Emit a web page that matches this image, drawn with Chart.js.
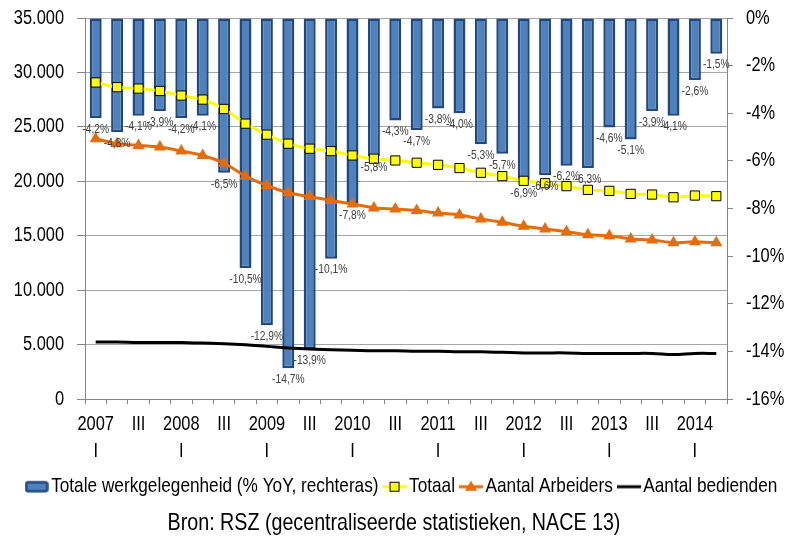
<!DOCTYPE html>
<html>
<head>
<meta charset="utf-8">
<script src="https://cdn.jsdelivr.net/npm/chart.js@4/dist/chart.umd.min.js"></script>
<style>
  html, body { margin: 0; padding: 0; background: #fff; }
  #wrap { width: 788px; height: 540px; }
</style>
</head>
<body>
<div id="wrap"><canvas id="c" width="788" height="540"></canvas></div>
<script>
// ---- data ----
const years = ["2007", "2008", "2009", "2010", "2011", "2012", "2013", "2014"];
const quarterNames = ["I", "II", "III", "IV"];
const categories = [];
for (let i = 0; i < 30; i++) {
  const y = years[Math.floor(i / 4)];
  const q = quarterNames[i % 4];
  categories.push(i % 4 === 0 ? [y, q] : q);
}
const yoyTotal = [-4.2, -4.8, -4.1, -3.9, -4.2, -4.1, -6.5, -10.5, -12.9, -14.7,
                  -13.9, -10.1, -7.8, -5.8, -4.3, -4.7, -3.8, -4.0, -5.3, -5.7,
                  -6.9, -6.6, -6.2, -6.3, -4.6, -5.1, -3.9, -4.1, -2.6, -1.5];
const totaal = [29080, 28650, 28520, 28300, 27880, 27510, 26650, 25300, 24290, 23460,
                23000, 22780, 22380, 22080, 21920, 21710, 21520, 21220, 20790, 20480,
                20050, 19830, 19560, 19220, 19130, 18850, 18790, 18540, 18700, 18640];
const arbeiders = [23920, 23460, 23300, 23150, 22780, 22380, 21670, 20480, 19620, 18950,
                   18600, 18240, 17930, 17560, 17470, 17320, 17100, 16920, 16550, 16240,
                   15870, 15630, 15380, 15100, 15010, 14710, 14620, 14370, 14460, 14370];
const bedienden = [5250, 5250, 5200, 5200, 5200, 5150, 5100, 5000, 4850, 4700,
                   4600, 4550, 4500, 4450, 4450, 4400, 4400, 4350, 4350, 4300,
                   4250, 4250, 4250, 4200, 4200, 4200, 4200, 4100, 4200, 4200];
const leftTicks = [0, 5000, 10000, 15000, 20000, 25000, 30000, 35000];
const rightTicks = [0, -2, -4, -6, -8, -10, -12, -14, -16];
const seriesNames = ["Totale werkgelegenheid (% YoY, rechteras)", "Totaal", "Aantal Arbeiders", "Aantal bedienden"];
const sourceText = "Bron: RSZ (gecentraliseerde statistieken, NACE 13)";

// ---- narrow text rendering (emulates a condensed face) ----
(function () {
  const K = 0.82;
  const proto = CanvasRenderingContext2D.prototype;
  const origFill = proto.fillText, origMeasure = proto.measureText;
  proto.measureText = function (t) {
    const m = origMeasure.call(this, t);
    return {
      width: m.width * K,
      actualBoundingBoxAscent: m.actualBoundingBoxAscent,
      actualBoundingBoxDescent: m.actualBoundingBoxDescent,
      actualBoundingBoxLeft: m.actualBoundingBoxLeft * K,
      actualBoundingBoxRight: m.actualBoundingBoxRight * K,
      fontBoundingBoxAscent: m.fontBoundingBoxAscent,
      fontBoundingBoxDescent: m.fontBoundingBoxDescent
    };
  };
  proto.fillText = function (t, x, y, mw) {
    this.save();
    this.translate(x, y);
    this.scale(K, 1);
    if (mw !== undefined) origFill.call(this, t, 0, 0, mw / K); else origFill.call(this, t, 0, 0);
    this.restore();
  };
})();

// ---- styles ----
const FONT = "'Liberation Sans', Arial, sans-serif";
const BAR_FILL = '#4F81BD';
const BAR_BORDER = '#22497F';
const YELLOW = '#FFFF00';
const ORANGE = '#E46C0A';

function fmtThousands(v) {
  return String(v).replace(/\B(?=(\d{3})+(?!\d))/g, '.');
}
function fmtPct(v) {
  return v.toFixed(1).replace('.', ',') + '%';
}

// legend icons
function makeIcon(kind) {
  const c = document.createElement('canvas');
  const w = 24, h = 14;
  c.width = w; c.height = h;
  const g = c.getContext('2d');
  if (kind === 'bar') {
    g.fillStyle = BAR_FILL;
    g.strokeStyle = BAR_BORDER;
    g.lineWidth = 2.5;
    g.beginPath();
    if (g.roundRect) g.roundRect(1.5, 2.5, w - 3, h - 5, 2); else g.rect(1.5, 2.5, w - 3, h - 5);
    g.fill(); g.stroke();
  } else {
    const col = kind === 'yellow' ? YELLOW : kind === 'orange' ? ORANGE : '#000';
    g.strokeStyle = col;
    g.lineWidth = 3;
    g.beginPath(); g.moveTo(0, h / 2); g.lineTo(w, h / 2); g.stroke();
    if (kind === 'yellow') {
      g.fillStyle = YELLOW; g.strokeStyle = '#000'; g.lineWidth = 1;
      g.fillRect(w / 2 - 5, h / 2 - 5, 10, 10);
      g.strokeRect(w / 2 - 5 + 0.5, h / 2 - 5 + 0.5, 9, 9);
    } else if (kind === 'orange') {
      g.fillStyle = ORANGE;
      g.beginPath(); g.moveTo(w / 2, h / 2 - 6); g.lineTo(w / 2 + 6, h / 2 + 4); g.lineTo(w / 2 - 6, h / 2 + 4); g.closePath(); g.fill();
    }
  }
  return c;
}
const icons = [makeIcon('bar'), makeIcon('yellow'), makeIcon('orange'), makeIcon('black')];

const barLabelPlugin = {
  id: 'barLabels',
  afterLayout(chart) {
    // legend in the reference sits slightly right of centre
    if (chart.legend) { chart.legend.left += 11; chart.legend.right += 11; }
  },
  afterDatasetsDraw(chart) {
    const meta = chart.getDatasetMeta(3);
    const ctx = chart.ctx;
    ctx.save();
    ctx.font = '12.5px ' + FONT;
    ctx.fillStyle = '#404040';
    ctx.textAlign = 'center';
    ctx.textBaseline = 'top';
    meta.data.forEach((bar, i) => {
      ctx.fillText(fmtPct(yoyTotal[i]), bar.x, bar.y + 5);
    });
    ctx.restore();
  }
};

Chart.defaults.font.family = FONT;
Chart.defaults.font.size = 20;
Chart.defaults.color = '#000';

new Chart(document.getElementById('c'), {
  data: {
    labels: categories,
    datasets: [
      {
        type: 'line', label: seriesNames[1], data: totaal, yAxisID: 'y', order: 2,
        borderColor: YELLOW, borderWidth: 3, tension: 0.2,
        pointStyle: 'rect', pointRadius: 6.5, pointBackgroundColor: YELLOW,
        pointBorderColor: '#000', pointBorderWidth: 1
      },
      {
        type: 'line', label: seriesNames[2], data: arbeiders, yAxisID: 'y', order: 1,
        borderColor: ORANGE, borderWidth: 3, tension: 0.2,
        pointStyle: 'triangle', pointRadius: 7, pointBackgroundColor: ORANGE,
        pointBorderColor: ORANGE, pointBorderWidth: 0
      },
      {
        type: 'line', label: seriesNames[3], data: bedienden, yAxisID: 'y', order: 0,
        borderColor: '#000', borderWidth: 3, tension: 0.4, pointRadius: 0
      },
      {
        type: 'bar', label: seriesNames[0], data: yoyTotal, yAxisID: 'y1', order: 5,
        backgroundColor: BAR_FILL, borderColor: BAR_BORDER, borderWidth: 2.5,
        borderSkipped: false, barPercentage: 0.56, categoryPercentage: 1.0
      }
    ]
  },
  options: {
    responsive: false,
    animation: false,
    layout: { padding: { top: 18, left: 0, right: 0, bottom: 0 } },
    scales: {
      x: {
        offset: true,
        grid: { offset: true, drawOnChartArea: false, tickLength: 5, color: '#868686', tickColor: '#868686' },
        border: { color: '#868686', width: 1 },
        ticks: {
          autoSkip: false, maxRotation: 0, minRotation: 0, padding: 6,
          font: { size: 20, lineHeight: 1.38 },
          callback: function (val, idx) { return idx % 2 === 0 ? categories[idx] : ''; }
        },
        afterFit: function (s) { s.height = 65; }
      },
      y: {
        position: 'left', min: 0, max: 35000,
        afterBuildTicks: function (s) { s.ticks = leftTicks.map(v => ({ value: v })); },
        grid: { color: '#A6A6A6', tickLength: 8, tickColor: '#868686' },
        border: { color: '#868686' },
        ticks: { padding: 13, font: { size: 20 }, callback: v => fmtThousands(v) },
        afterFit: function (s) { s.width = 85; s.paddingTop = 6; s.paddingBottom = 6; }
      },
      y1: {
        position: 'right', min: -16, max: 0,
        afterBuildTicks: function (s) { s.ticks = rightTicks.map(v => ({ value: v })); },
        grid: { drawOnChartArea: false, tickLength: 6, color: '#868686' },
        border: { color: '#868686' },
        ticks: { padding: 13, font: { size: 20 }, callback: v => v + '%' },
        afterFit: function (s) { s.width = 61; s.paddingTop = 6; s.paddingBottom = 6; }
      }
    },
    plugins: {
      tooltip: { enabled: false },
      legend: {
        display: true, position: 'bottom',
        labels: {
          usePointStyle: true, pointStyleWidth: 8, padding: 12,
          font: { size: 21 }, color: '#000',
          generateLabels: function () {
            return seriesNames.map((t, i) => ({
              text: t, pointStyle: icons[i], fillStyle: 'transparent', strokeStyle: 'transparent',
              lineWidth: 0, hidden: false, datasetIndex: i, fontColor: '#000'
            }));
          }
        }
      },
      title: {
        display: true, position: 'bottom', text: sourceText,
        font: { size: 24, weight: 'normal' }, color: '#000',
        padding: { top: 2, bottom: 2 }
      }
    }
  },
  plugins: [barLabelPlugin]
});
</script>
</body>
</html>
